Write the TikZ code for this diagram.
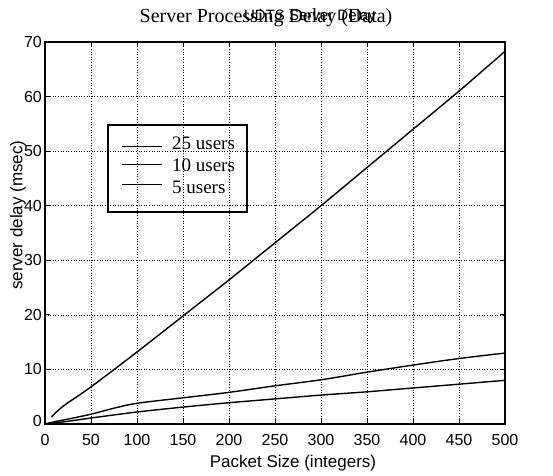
\documentclass[tikz,border=0pt]{standalone}
\usepackage{fontspec}
\setmainfont{Liberation Serif}
\setsansfont{Liberation Sans}
\begin{document}
\begin{tikzpicture}[x=1pt,y=1pt,
  gridline/.style={line width=0.6pt,dotted},
  frame/.style={line width=1.4pt},
  curve/.style={line width=1.4pt,smooth},
  ticklab/.style={font=\sffamily\fontsize{16}{16}\selectfont,inner sep=0pt},
  axlab/.style={font=\sffamily\fontsize{17}{17}\selectfont,inner sep=0pt},
  legtext/.style={font=\rmfamily\fontsize{19}{19}\selectfont,inner sep=0pt,anchor=west}]
\useasboundingbox (0,0) rectangle (553,475);
% titles (two overlapping titles as printed)
\node[font=\rmfamily\fontsize{20}{20}\selectfont,inner sep=0pt] (title) at (266,457) {Server Processing Delay (Data)};
\node[font=\sffamily\fontsize{15}{15}\selectfont,inner sep=0pt] (title2) at (310,458) {UDTS Server Delay};
% axis labels
\node[axlab] (xlab) at (293,12) {Packet Size (integers)};
\node[axlab,rotate=90] (ylab) at (18,260) {server delay (msec)};
\begin{scope}[shift={(45,51)},x=0.92pt,y=5.457pt]
  % grid
  \foreach \v in {50,100,...,450} \draw[gridline] (\v,0) -- (\v,70);
  \foreach \v in {10,20,...,60} \draw[gridline] (0,\v) -- (500,\v);
  % ticks
  \foreach \v in {50,100,...,450} {
    \draw[line width=1pt] (\v,0) -- ++(0,5pt);
    \draw[line width=1pt] (\v,70) -- ++(0,-5pt);
  }
  \foreach \v in {10,20,...,60} {
    \draw[line width=1pt] (0,\v) -- ++(5pt,0);
    \draw[line width=1pt] (500,\v) -- ++(-5pt,0);
  }
  % frame
  \draw[frame] (0,0) rectangle (500,70);
  % tick labels
  \foreach \v in {0,50,...,500} \node[ticklab] (xt\v) at (\v,-16pt) {\v};
  \foreach \v in {10,20,...,70} \node[ticklab,anchor=east] (yt\v) at (-3pt,\v) {\v};
  \node[ticklab,anchor=east] (yt0) at (-3pt,0.6) {0};
  % curves
  \draw[curve] plot coordinates {(7,1.3) (20,3.3) (50,6.8) (100,13.2) (150,19.8) (200,26.4) (250,33.2) (300,40) (350,47) (400,54) (450,61) (500,68.3)};
  \draw[curve] plot coordinates {(0,0) (10,0.4) (25,0.9) (50,1.8) (75,2.9) (100,3.8) (150,4.8) (200,5.8) (250,7) (300,8.1) (350,9.5) (400,10.8) (450,12) (500,13)};
  \draw[curve] plot coordinates {(0,0) (25,0.5) (50,1.1) (100,2.2) (150,3.1) (200,3.9) (250,4.6) (300,5.3) (350,5.9) (400,6.6) (450,7.3) (500,8)};
  % legend
  \draw[line width=1.3pt] (68.5,38.85) rectangle (219.6,54.8);
  \coordinate (l1a) at (83.7,50.9); \coordinate (l1b) at (127,50.9);
  \coordinate (l2a) at (83.7,47.6); \coordinate (l2b) at (127,47.6);
  \coordinate (l3a) at (83.7,43.9); \coordinate (l3b) at (127,43.9);
  \draw[line width=1.2pt] (l1a) -- (l1b);
  \draw[line width=1.2pt] (l2a) -- (l2b);
  \draw[line width=1.2pt] (l3a) -- (l3b);
  \node[legtext] (lt1) at (138,51.5) {25 users};
  \node[legtext] (lt2) at (138,47.4) {10 users};
  \node[legtext] (lt3) at (138,43.3) {5 users};
\end{scope}
\end{tikzpicture}
\end{document}
